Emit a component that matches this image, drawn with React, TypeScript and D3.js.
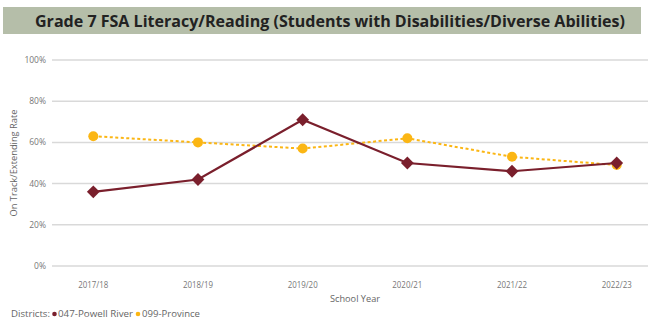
import React from "react";
import * as d3 from "d3";

const years = ["2017/18", "2018/19", "2019/20", "2020/21", "2021/22", "2022/23"];
const powellRiver = [36, 42, 71, 50, 46, 50];
const province = [63, 60, 57, 62, 53, 49];
const yTicks = [0, 20, 40, 60, 80, 100];

const W = 648;
const H = 324;
const MAROON = "#7a1f2c";
const GOLD = "#fbb614";
const FONT = "'Open Sans', 'Noto Sans', sans-serif";

export default function App() {
  const x = d3.scalePoint<string>().domain(years).range([93.3, 616.7]);
  const y = d3.scaleLinear().domain([0, 100]).range([266, 60]);
  const line = d3
    .line<number>()
    .x((_, i) => x(years[i]) as number)
    .y((d) => y(d));
  const diamond = d3.symbol().type(d3.symbolSquare).size(82)();
  const titleText =
    "Grade 7 FSA Literacy/Reading (Students with Disabilities/Diverse Abilities)";

  return (
    <svg
      width={W}
      height={H}
      style={{ position: "absolute", left: 0, top: 0, background: "#fff" }}
      fontFamily={FONT}
    >
      <rect x={3} y={7} width={638} height={27} fill="#b5bea9" />
      <text
        x={330}
        y={26.5}
        textAnchor="middle"
        fontSize={15.5}
        fontWeight={700}
        fill="#222"
        textLength={590}
        lengthAdjust="spacingAndGlyphs"
      >
        {titleText}
      </text>

      {yTicks.map((t) => (
        <g key={t}>
          <line x1={52} x2={W} y1={y(t)} y2={y(t)} stroke="#d9d9d9" strokeWidth={1.5} />
          <text
            x={46}
            y={y(t)}
            dy="0.35em"
            textAnchor="end"
            fontSize={8.5}
            fill="#777"
          >
            {t}%
          </text>
        </g>
      ))}

      <text
        transform={`translate(14,163) rotate(-90)`}
        textAnchor="middle"
        fontSize={8.5}
        fill="#666"
        dy="0.35em"
        textLength={107}
        lengthAdjust="spacingAndGlyphs"
      >
        On Track/Extending Rate
      </text>

      {years.map((yr) => (
        <text
          key={yr}
          x={x(yr) as number}
          y={285}
          dy="0.35em"
          textAnchor="middle"
          fontSize={8.5}
          fill="#777"
          textLength={30}
          lengthAdjust="spacingAndGlyphs"
        >
          {yr}
        </text>
      ))}
      <text
        x={355}
        y={299}
        dy="0.35em"
        textAnchor="middle"
        fontSize={9}
        fill="#666"
        textLength={50}
        lengthAdjust="spacingAndGlyphs"
      >
        School Year
      </text>

      <path
        d={line(province) || ""}
        fill="none"
        stroke={GOLD}
        strokeWidth={2}
        strokeDasharray="3,2.5"
      />
      {province.map((v, i) => (
        <circle key={i} cx={x(years[i]) as number} cy={y(v)} r={5} fill={GOLD} />
      ))}

      <path d={line(powellRiver) || ""} fill="none" stroke={MAROON} strokeWidth={2.2} />
      {powellRiver.map((v, i) => (
        <path
          key={i}
          d={diamond as string}
          transform={`translate(${x(years[i])},${y(v)}) rotate(45)`}
          fill={MAROON}
        />
      ))}

      <g fontSize={8.5} fill="#666">
        <text x={11} y={314} dy="0.35em" textLength={39} lengthAdjust="spacingAndGlyphs">
          Districts:
        </text>
        <circle cx={54.5} cy={314} r={2.3} fill={MAROON} />
        <text x={58} y={314} dy="0.35em" textLength={75} lengthAdjust="spacingAndGlyphs">
          047-Powell River
        </text>
        <circle cx={138} cy={314} r={2.3} fill={GOLD} />
        <text x={142} y={314} dy="0.35em" textLength={58} lengthAdjust="spacingAndGlyphs">
          099-Province
        </text>
      </g>
    </svg>
  );
}
